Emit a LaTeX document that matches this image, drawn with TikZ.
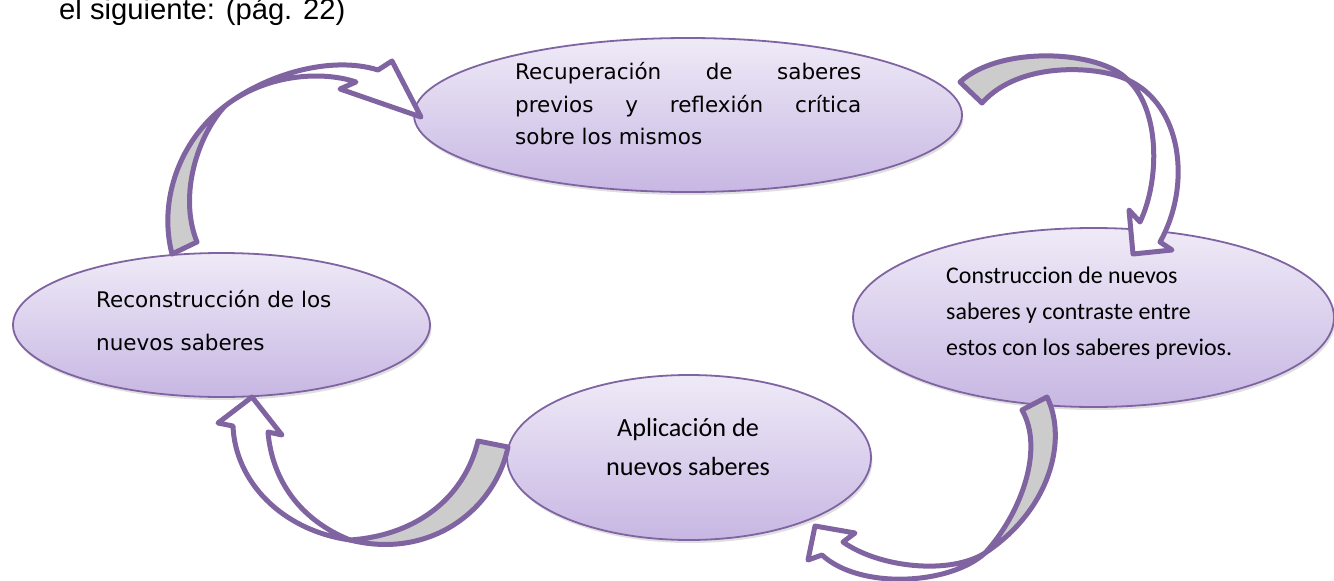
\documentclass[tikz,border=0pt]{standalone}
\usepackage{fontspec}
\setmainfont{Liberation Sans}
\newfontfamily\comicfont{DejaVu Sans}
\newfontfamily\calfont{Carlito}
\usetikzlibrary{shapes.geometric,shadows}
\definecolor{lila}{RGB}{128,100,162}
\definecolor{lilatop}{RGB}{239,234,247}
\definecolor{lilabot}{RGB}{199,183,227}
\definecolor{cinta}{RGB}{204,204,204}
\begin{document}
\begin{tikzpicture}[x=1pt,y=-1pt,
  bubble/.style={ellipse, draw=lila, line width=1.8pt, top color=lilatop, bottom color=lilabot, inner sep=0pt,
    drop shadow={shadow xshift=1.5pt, shadow yshift=-3pt, opacity=.25}},
  txt/.style={anchor=base west, inner sep=0pt},
  comic/.style={txt, font=\comicfont\fontsize{21.5pt}{32pt}\selectfont},
  calib/.style={txt, font=\calfont\fontsize{#1}{#1}\selectfont},
  backband/.style={draw=lila, fill=cinta, line width=5pt, line join=round},
  frontband/.style={draw=lila, fill=white, line width=5pt, line join=round}]
\useasboundingbox (0,0) rectangle (1334,581);
\node[txt, font=\fontsize{29.2pt}{29.2pt}\selectfont] (cita) at (59,19.5) {el siguiente: (pág. 22)};
% ellipses
\node[bubble, minimum width=548pt, minimum height=154pt] (recup) at (688,115){};
\node[bubble, minimum width=481pt, minimum height=179pt] (constr) at (1093.5,317.5){};
\node[bubble, minimum width=364pt, minimum height=165pt] (aplic) at (689,457.5){};
\node[bubble, minimum width=417pt, minimum height=144pt] (reconst) at (221.5,325){};
% texts
\node[comic] (recupA) at (515,79.5){\makebox[346pt][s]{Recuperación de saberes}};
\node[comic] (recupB) at (515,112){\makebox[346pt][s]{previos y reflexión crítica}};
\node[comic] (recupC) at (515,144){sobre los mismos};
\node[calib=23.9pt] (constrA) at (946,283){Construccion de nuevos};
\node[calib=23.9pt] (constrB) at (946,319){saberes y contraste entre};
\node[calib=23.9pt] (constrC) at (946,355.5){estos con los saberes previos.};
\node[calib=26.2pt, anchor=base] (aplicA) at (688,436){Aplicación de};
\node[calib=26.2pt, anchor=base] (aplicB) at (688,475){nuevos saberes};
\node[comic] (reconstA) at (96,307){Reconstrucción de los};
\node[comic] (reconstB) at (96,350){nuevos saberes};
% curved arrows
\draw[backband] (172,254) .. controls (158,200) and (180,140) .. (225,106)
  .. controls (198,135) and (178,195) .. (197,242) -- cycle;
\draw[frontband] (225,106) .. controls (265,75) and (330,55) .. (378,70) -- (392,61) -- (421,117)
  -- (340,89) -- (356,82) .. controls (320,70) and (265,75) .. cycle;
\draw[backband] (960,82) .. controls (1000,45) and (1100,50) .. (1128,80)
  .. controls (1100,66) and (1020,60) .. (982,103) -- cycle;
\draw[frontband] (1128,80) .. controls (1182,105) and (1192,185) .. (1160,242) -- (1172,250) -- (1133,254)
  -- (1129,210) -- (1140,222) .. controls (1160,180) and (1160,110) .. cycle;
\draw[backband] (1047,397) .. controls (1068,440) and (1050,510) .. (985,553)
  .. controls (1020,515) and (1045,450) .. (1022,410) -- cycle;
\draw[frontband] (985,553) .. controls (950,585) and (860,590) .. (822,555) -- (808,560) -- (815,526)
  -- (855,533) -- (843,542) .. controls (880,568) and (950,575) .. cycle;
\draw[backband] (508,447) .. controls (495,510) and (430,560) .. (350,540)
  .. controls (420,535) and (465,495) .. (478,441) -- cycle;
\draw[frontband] (350,540) .. controls (280,530) and (235,480) .. (233,426) -- (218,423) -- (252,397)
  -- (282,435) -- (268,432) .. controls (272,480) and (300,520) .. cycle;
\end{tikzpicture}
\end{document}
